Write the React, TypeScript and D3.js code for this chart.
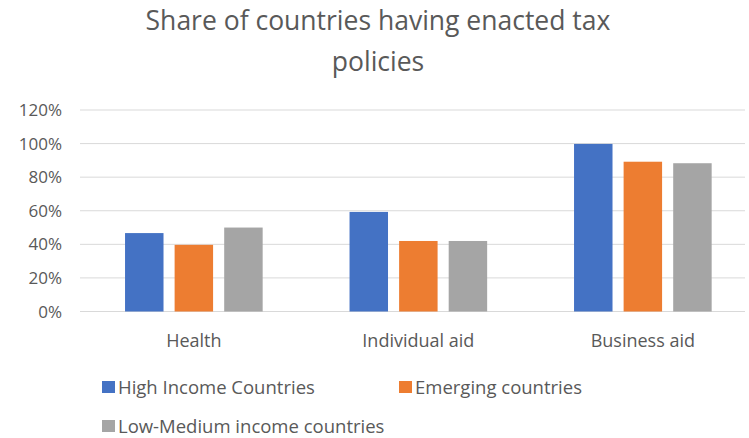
import React from "react";
import * as d3 from "d3";

const categories = ["Health", "Individual aid", "Business aid"];
const seriesNames = ["High Income Countries", "Emerging countries", "Low-Medium income countries"];
const highIncome = [0.467, 0.593, 0.998];
const emerging = [0.397, 0.42, 0.892];
const lowMedium = [0.5, 0.42, 0.883];
const yTicks = [0, 0.2, 0.4, 0.6, 0.8, 1.0, 1.2];
const colors = ["#4472C4", "#ED7D31", "#A5A5A5"];

const W = 749;
const H = 438;
const FONT = "'Open Sans', 'Noto Sans', sans-serif";

export default function App() {
  const series = [highIncome, emerging, lowMedium];
  const plotLeft = 80;
  const y = d3.scaleLinear().domain([0, 1.2]).range([311.5, 110]);
  const x0 = d3
    .scaleBand<string>()
    .domain(categories)
    .range([81.6, 755.1])
    .paddingInner(0.387)
    .paddingOuter(0.1935);
  const x1 = d3.scaleBand<number>().domain([0, 1, 2]).range([0, x0.bandwidth()]).paddingInner(0.224);
  const fmt = d3.format(".0%");

  return (
    <svg width={W} height={H} style={{ position: "absolute", left: 0, top: 0, background: "#fff", overflow: "hidden" }}>
      <rect x={0} y={0} width={W} height={H} fill="#fff" />
      <text x={378} y={30} textAnchor="middle" fontFamily={FONT} fontSize={26.5} fill="#595959">
        Share of countries having enacted tax
      </text>
      <text x={378} y={71} textAnchor="middle" fontFamily={FONT} fontSize={26.5} fill="#595959">
        policies
      </text>
      {yTicks.map((t) => (
        <g key={t}>
          <line x1={plotLeft} x2={745} y1={y(t)} y2={y(t)} stroke="#D9D9D9" strokeWidth={1} />
          <text x={62} y={y(t)} dy="0.36em" textAnchor="end" fontFamily={FONT} fontSize={17} fill="#595959">
            {fmt(t)}
          </text>
        </g>
      ))}
      {categories.map((c, ci) => (
        <g key={c} transform={`translate(${x0(c)},0)`}>
          {series.map((s, si) => (
            <rect key={si} x={x1(si)} y={y(s[ci])} width={x1.bandwidth()} height={y(0) - y(s[ci])} fill={colors[si]} />
          ))}
          <text x={x0.bandwidth() / 2} y={347} textAnchor="middle" fontFamily={FONT} fontSize={18} fill="#595959">
            {c}
          </text>
        </g>
      ))}
      {seriesNames.map((n, i) => {
        const lx = i === 1 ? 399 : 102;
        const ly = i === 2 ? 426 : 387;
        return (
          <g key={n}>
            <rect x={lx} y={ly - 6} width={13} height={12} fill={colors[i]} />
            <text x={lx + 16} y={ly} dy="0.36em" fontFamily={FONT} fontSize={18.5} fill="#595959">
              {n}
            </text>
          </g>
        );
      })}
    </svg>
  );
}
